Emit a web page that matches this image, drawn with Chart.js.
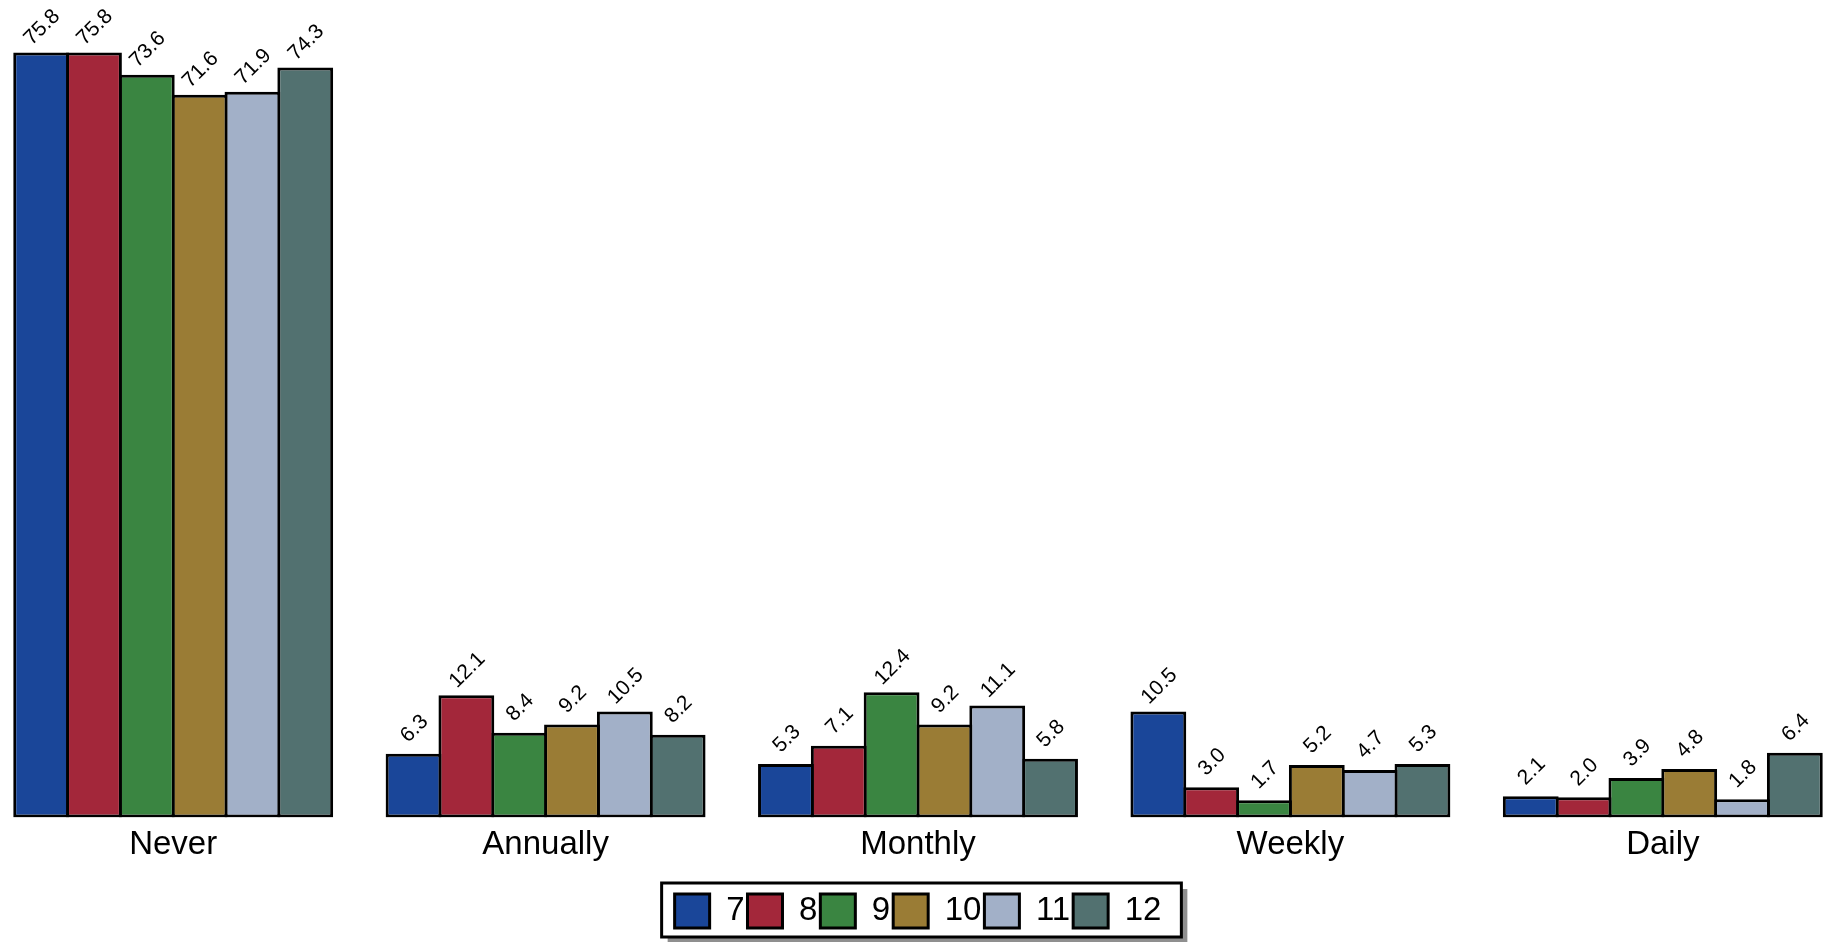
<!DOCTYPE html>
<html>
<head>
<meta charset="utf-8">
<script src="https://cdn.jsdelivr.net/npm/chart.js@4.4.1/dist/chart.umd.min.js"></script>
<style>
  html, body { margin: 0; padding: 0; background: #fff; overflow: hidden; }
  #wrap { position: absolute; left: -13px; top: 0; width: 1862px; height: 942px; }
</style>
</head>
<body>
<div id="wrap"><canvas id="freqChart"></canvas></div>
<script>
// frequency categories on the x axis, one series per grade
const categories = ["Never", "Annually", "Monthly", "Weekly", "Daily"];
const grades = ["7", "8", "9", "10", "11", "12"];

const grade7 = [75.8, 6.3, 5.3, 10.5, 2.1];
const grade8 = [75.8, 12.1, 7.1, 3.0, 2.0];
const grade9 = [73.6, 8.4, 12.4, 1.7, 3.9];
const grade10 = [71.6, 9.2, 9.2, 5.2, 4.8];
const grade11 = [71.9, 10.5, 11.1, 4.7, 1.8];
const grade12 = [74.3, 8.2, 5.8, 5.3, 6.4];

const colors = ["#1a4699", "#a3273a", "#3a8541", "#9a7c35", "#a2b0c8", "#527170"];
const FONT = "'Liberation Sans', Arial, sans-serif";

const seriesValues = [grade7, grade8, grade9, grade10, grade11, grade12];

// rotated value labels above each bar
const barLabels = {
    id: "barLabels",
    afterDatasetsDraw(chart) {
        const ctx = chart.ctx;
        ctx.save();
        ctx.font = "21px " + FONT;
        ctx.fillStyle = "#000";
        ctx.textAlign = "center";
        ctx.textBaseline = "middle";
        chart.data.datasets.forEach((ds, i) => {
            chart.getDatasetMeta(i).data.forEach((bar, j) => {
                ctx.save();
                ctx.translate(bar.x + 1, bar.y - 25);
                ctx.rotate(-Math.PI / 4);
                ctx.fillText(ds.data[j].toFixed(1), 0, 0);
                ctx.restore();
            });
        });
        ctx.restore();
    }
};

// framed legend with a drop shadow, drawn behind the legend items
const legendFrame = {
    id: "legendFrame",
    beforeDraw(chart) {
        const boxes = chart.legend && chart.legend.legendHitBoxes;
        if (!boxes || !boxes.length) return;
        const left = Math.min(...boxes.map(b => b.left)) - 13;
        const right = Math.max(...boxes.map(b => b.left + b.width)) + 20;
        const top = 883;
        const bottom = 937;
        const ctx = chart.ctx;
        ctx.save();
        ctx.fillStyle = "#8f8f8f";
        ctx.fillRect(left + 6, top + 6, right - left, bottom - top);
        ctx.fillStyle = "#fff";
        ctx.fillRect(left, top, right - left, bottom - top);
        ctx.strokeStyle = "#000";
        ctx.lineWidth = 3;
        ctx.strokeRect(left, top, right - left, bottom - top);
        ctx.restore();
    }
};

const datasets = grades.map((g, i) => ({
    label: g,
    data: seriesValues[i],
    backgroundColor: colors[i],
    borderColor: "#000",
    borderWidth: 3,
    borderSkipped: false,
    barPercentage: 1.057,
    categoryPercentage: 0.851
}));

new Chart(document.getElementById("freqChart"), {
    type: "bar",
    data: { labels: categories, datasets: datasets },
    options: {
        responsive: true,
        maintainAspectRatio: false,
        animation: false,
        layout: { padding: { top: 0, bottom: 4 } },
        plugins: {
            legend: {
                position: "bottom",
                labels: {
                    boxWidth: 35,
                    boxHeight: 34,
                    padding: 3,
                    color: "#000",
                    font: { family: FONT, size: 33 }
                }
            },
            tooltip: { enabled: false }
        },
        scales: {
            x: {
                grid: { display: false },
                border: { display: false },
                ticks: { color: "#000", padding: 0, font: { family: FONT, size: 33 } },
                afterFit(scale) { scale.height += 26; }
            },
            y: { display: false, min: 0, max: 81 }
        }
    },
    plugins: [legendFrame, barLabels]
});
</script>
</body>
</html>
